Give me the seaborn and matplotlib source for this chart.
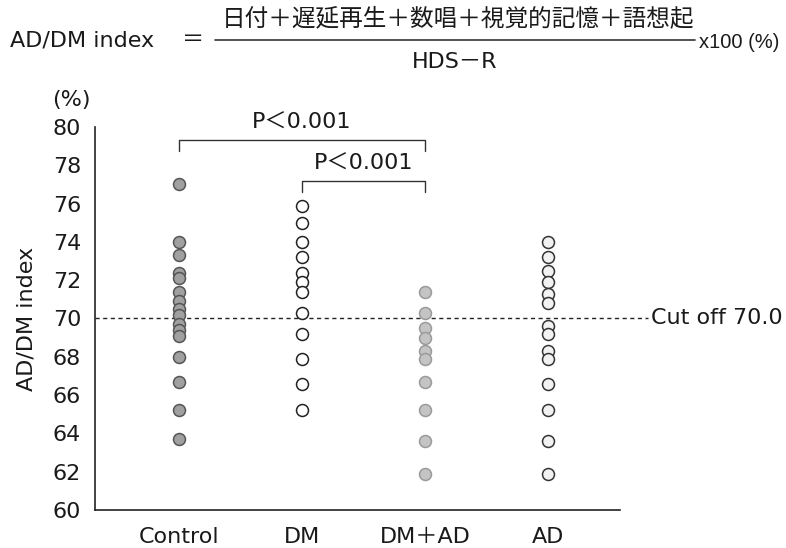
import matplotlib

matplotlib.use("Agg")

import matplotlib.pyplot as plt
import pandas as pd
import seaborn as sns

CATEGORIES = ["Control", "DM", "DM＋AD", "AD"]

control = [77.0, 74.0, 73.3, 72.4, 72.1, 71.4, 70.9, 70.5, 70.2, 69.7,
           69.4, 69.1, 68.0, 66.7, 65.2, 63.7]
dm = [75.9, 75.0, 74.0, 73.2, 72.4, 71.9, 71.4, 70.3, 69.2, 67.9, 66.6, 65.2]
dm_ad = [71.4, 70.3, 69.5, 69.0, 68.3, 67.9, 66.7, 65.2, 63.6, 61.9]
ad = [74.0, 73.2, 72.5, 71.9, 71.3, 70.8, 69.6, 69.2, 68.3, 67.9, 66.6,
      65.2, 63.6, 61.9]

CUTOFF = 70.0
Y_TICKS = [60, 62, 64, 66, 68, 70, 72, 74, 76, 78, 80]

# marker style per group: (face, edge)
STYLES = {
    "Control": ("#a0a0a0", "#555555"),
    "DM": ("white", "#222222"),
    "DM＋AD": ("#c4c4c4", "#9a9a9a"),
    "AD": ("#f2f2f2", "#333333"),
}

FS = 16
TXT = "#1a1a1a"


def main() -> None:
    sns.set_style("white")
    plt.rcParams["font.family"] = ["DejaVu Sans", "Noto Sans CJK JP"]
    plt.rcParams["text.color"] = TXT
    plt.rcParams["xtick.color"] = TXT
    plt.rcParams["ytick.color"] = TXT
    plt.rcParams["axes.labelcolor"] = TXT

    frames = []
    for name, vals in zip(CATEGORIES, [control, dm, dm_ad, ad]):
        frames.append(pd.DataFrame({"group": name, "value": vals}))
    df = pd.concat(frames, ignore_index=True)

    W, H = 786, 548
    fig = plt.figure(figsize=(W / 100, H / 100), dpi=100)
    ax = fig.add_axes([95 / W, 1 - 510 / H, 525 / W, 383 / H])

    for name in CATEGORIES:
        face, edge = STYLES[name]
        sns.stripplot(
            data=df[df["group"] == name],
            x="group",
            y="value",
            order=CATEGORIES,
            jitter=False,
            ax=ax,
            size=8.6,
            color=face,
            edgecolor=edge,
            linewidth=1.1,
            zorder=3,
        )

    ax.set_xlim(-0.683, 3.585)
    ax.set_ylim(60, 80)
    ax.set_yticks(Y_TICKS)
    ax.tick_params(axis="y", direction="in", length=5, width=1, labelsize=FS, pad=10)
    ax.tick_params(axis="x", length=0, labelsize=FS, pad=12)
    ax.set_xlabel("")
    ax.set_ylabel("AD/DM index", fontsize=FS)
    ax.yaxis.set_label_coords(-0.112, 0.5)
    for side in ["top", "right"]:
        ax.spines[side].set_visible(False)
    for side in ["left", "bottom"]:
        ax.spines[side].set_linewidth(1.2)
        ax.spines[side].set_color("#222222")

    # cut-off line
    ax.plot([-0.683, 3.81], [CUTOFF, CUTOFF], color="#222222", linewidth=1,
            linestyle=(0, (3, 2.5)), clip_on=False, zorder=2)
    ax.text(3.84, CUTOFF, f"Cut off {CUTOFF:.1f}", fontsize=FS, va="center", ha="left")

    # significance brackets
    def bracket(x0, x1, y, drop, label, ty):
        ax.plot([x0, x0, x1, x1], [y - drop, y, y, y - drop], color="#333333",
                linewidth=1, clip_on=False)
        ax.text((x0 + x1) / 2, ty, label, fontsize=FS, ha="center", va="center")

    bracket(0, 2, 79.3, 0.55, "P＜0.001", 80.2)
    bracket(1, 2, 77.2, 0.6, "P＜0.001", 78.1)

    fig.text(71 / W, 1 - 100 / H, "(%)", fontsize=FS, ha="center", va="center")

    # formula header
    fig.text(10 / W, 1 - 40 / H, "AD/DM index", fontsize=FS, ha="left", va="center")
    fig.text(193 / W, 1 - 40 / H, "＝", fontsize=FS, ha="center", va="center")
    fig.text(458 / W, 1 - 18 / H, "日付＋遅延再生＋数唱＋視覚的記憶＋語想起", fontsize=17,
             ha="center", va="center")
    fig.add_artist(plt.Line2D([215 / W, 695 / W], [1 - 40 / H, 1 - 40 / H],
                              color="#333333", linewidth=1.2))
    fig.text(455 / W, 1 - 62 / H, "HDS－R", fontsize=FS, ha="center", va="center")
    fig.text(699 / W, 1 - 42 / H, "x100 (%)", fontsize=14.5, ha="left", va="center",
             family=["Liberation Sans", "DejaVu Sans"])

    fig.savefig("out.png", dpi=100)
    plt.close(fig)


if __name__ == "__main__":
    main()
